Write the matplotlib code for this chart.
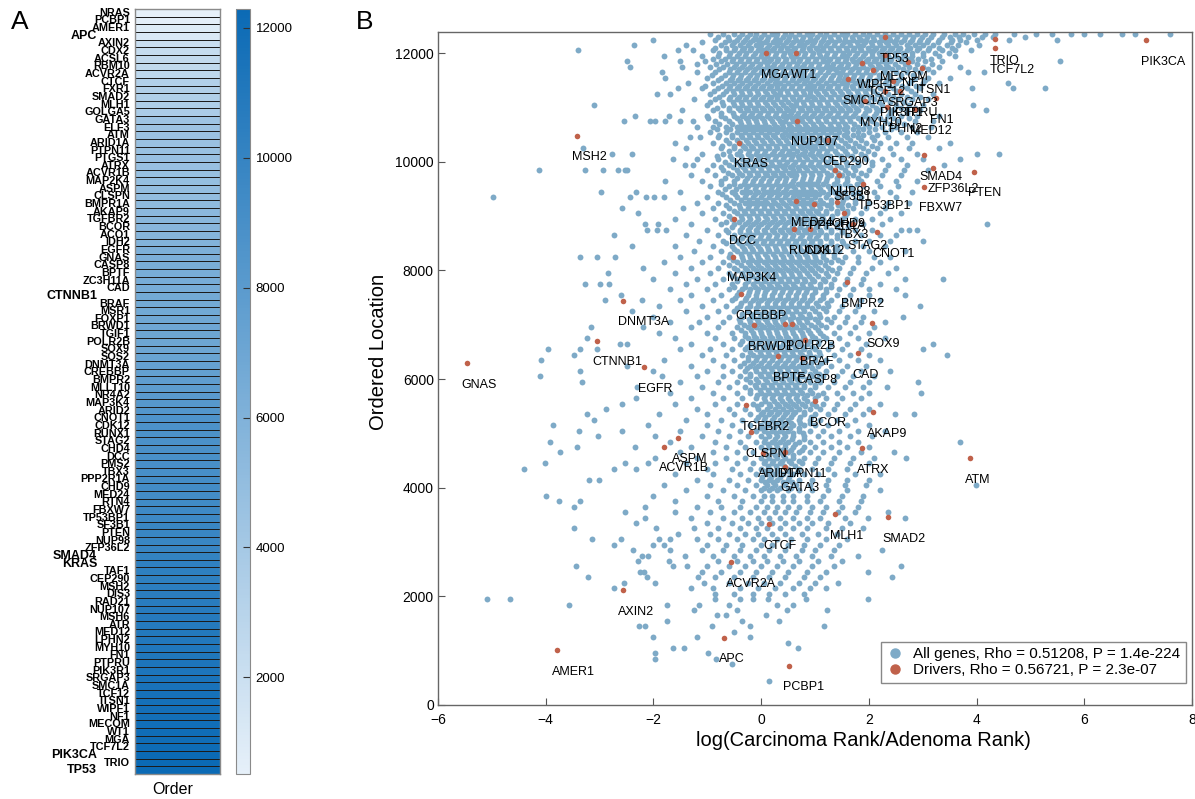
import matplotlib
matplotlib.use('Agg')
import matplotlib.pyplot as plt
from matplotlib.colors import LinearSegmentedColormap
from matplotlib.lines import Line2D
import numpy as np

plt.rcParams['font.family'] = ['Liberation Sans', 'DejaVu Sans']

# ---------------- Panel A data: driver genes ordered by location ----------------
HEAT_GENES = ["NRAS", "PCBP1", "AMER1", "APC", "AXIN2", "CDX2", "ACSL6", "RBM10", "ACVR2A", "CTCF",
              "FXR1", "SMAD2", "MLH1", "GOLGA5", "GATA3", "ELF3", "ATM", "ARID1A", "PTPN11", "PTGS1",
              "ATRX", "ACVR1B", "MAP2K4", "ASPM", "CLSPN", "BMPR1A", "AKAP9", "TGFBR2", "BCOR", "ACO1",
              "IDH2", "EGFR", "GNAS", "CASP8", "BPTF", "ZC3H11A", "CAD", "CTNNB1", "BRAF", "MSR1",
              "FOXP1", "BRWD1", "TGIF1", "POLR2B", "SOX9", "SOS2", "DNMT3A", "CREBBP", "BMPR2", "MLLT10",
              "NR4A2", "MAP3K4", "ARID2", "CNOT1", "CDK12", "RUNX1", "STAG2", "CHD4", "DCC", "PMS2",
              "TBX3", "PPP2R1A", "CHD9", "MED24", "RTN4", "FBXW7", "TP53BP1", "SF3B1", "PTEN", "NUP98",
              "ZFP36L2", "SMAD4", "KRAS", "TAF1", "CEP290", "MSH2", "DIS3", "RAD21", "NUP107", "MSH6",
              "ATR", "MED12", "LPHN2", "MYH10", "FN1", "PTPRU", "PIK3R1", "SRGAP3", "SMC1A", "TCF12",
              "ITSN1", "WIPF1", "NF1", "MECOM", "WT1", "MGA", "TCF7L2", "PIK3CA", "TRIO", "TP53"]
HEAT_VALUES = [512, 725, 1010, 1240, 2120, 2300, 2450, 2560, 2635, 3325,
               3380, 3455, 3510, 3700, 4390, 4450, 4540, 4645, 4660, 4700,
               4725, 4755, 4850, 4920, 5020, 5200, 5390, 5515, 5600, 5750,
               5900, 6215, 6300, 6390, 6425, 6450, 6475, 6710, 6720, 6800,
               6900, 6990, 7015, 7015, 7040, 7200, 7445, 7560, 7780, 7900,
               8050, 8255, 8400, 8700, 8760, 8765, 8855, 8900, 8950, 9000,
               9055, 9220, 9260, 9270, 9400, 9545, 9590, 9760, 9820, 9850,
               9895, 10120, 10353, 10380, 10400, 10482, 10550, 10650, 10760, 10850,
               10900, 10975, 11010, 11120, 11175, 11300, 11305, 11490, 11525, 11690,
               11720, 11815, 11845, 11960, 12000, 12000, 12090, 12245, 12265, 12290]
KEY_GENES = ["APC", "CTNNB1", "SMAD4", "KRAS", "PIK3CA", "TP53"]
CBAR_TICKS = [2000, 4000, 6000, 8000, 10000, 12000]

# ---------------- Panel B data ----------------
# background genes: ordered location (row) -> log ratios of the genes found near that location
BLUE_ROWS = {
    12350: [-0.95, -0.7, -0.5, -0.35, -0.2, -0.1, 0.05, 0.2, 0.3, 0.45, 0.55, 0.7, 0.85, 0.95, 1.1, 1.2, 1.35, 1.5, 1.6, 1.75, 1.9, 2.0, 2.15, 2.3, 2.45, 2.6, 2.75, 2.9, 3.05, 3.2, 3.4, 3.6, 3.75, 3.95, 4.15, 4.35, 4.7, 5.1, 5.4, 5.75, 6.0, 6.3, 6.7, 6.95, 7.6],
    12250: [-2.0, -0.85, -0.6, -0.45, -0.3, -0.15, -0.05, 0.1, 0.25, 0.35, 0.5, 0.65, 0.75, 0.9, 1.0, 1.15, 1.3, 1.45, 1.55, 1.7, 1.85, 1.95, 2.1, 2.25, 2.4, 2.5, 2.65, 2.8, 2.95, 3.1, 3.3, 3.55, 3.7, 4.0, 4.6, 5.5],
    12150: [-2.36, -1.4, -0.75, -0.55, -0.4, -0.25, -0.1, 0.0, 0.15, 0.3, 0.4, 0.55, 0.7, 0.8, 0.95, 1.1, 1.2, 1.35, 1.5, 1.65, 1.8, 1.9, 2.05, 2.2, 2.35, 2.5, 2.7, 2.85, 3.0, 3.2, 3.45, 3.65, 4.05],
    12050: [-3.4, -1.54, -1.26, -0.9, -0.65, -0.5, -0.35, -0.2, -0.05, 0.05, 0.2, 0.35, 0.5, 0.6, 0.75, 0.9, 1.05, 1.15, 1.3, 1.45, 1.6, 1.7, 1.85, 2.0, 2.1, 2.25, 2.4, 2.55, 2.7, 2.9, 3.1, 3.35, 3.6, 3.9],
    11950: [-1.8, -1.1, -0.8, -0.6, -0.45, -0.3, -0.15, 0.0, 0.1, 0.25, 0.4, 0.55, 0.65, 0.8, 0.95, 1.1, 1.2, 1.35, 1.5, 1.6, 1.75, 1.9, 2.05, 2.2, 2.35, 2.5, 2.65, 2.8, 3.0, 3.3, 3.6],
    11850: [-2.49, -1.5, -1.05, -0.75, -0.55, -0.4, -0.25, -0.1, 0.05, 0.15, 0.3, 0.45, 0.6, 0.7, 0.85, 1.0, 1.15, 1.25, 1.4, 1.55, 1.7, 1.8, 1.95, 2.1, 2.25, 2.4, 2.6, 2.8, 3.05, 3.35, 5.54],
    11750: [-2.43, -1.47, -0.95, -0.7, -0.5, -0.35, -0.2, -0.05, 0.1, 0.2, 0.35, 0.5, 0.65, 0.75, 0.9, 1.05, 1.2, 1.3, 1.45, 1.6, 1.75, 1.9, 2.05, 2.2, 2.35, 2.55, 2.75, 3.0, 3.3, 3.7],
    11650: [-1.84, -1.2, -0.85, -0.6, -0.45, -0.3, -0.15, 0.0, 0.15, 0.25, 0.4, 0.55, 0.7, 0.8, 0.95, 1.1, 1.25, 1.4, 1.5, 1.65, 1.8, 1.95, 2.1, 2.3, 2.5, 2.7, 2.95, 3.2, 3.84, 4.13],
    11550: [-1.78, -1.0, -0.75, -0.55, -0.4, -0.25, -0.1, 0.05, 0.2, 0.3, 0.45, 0.6, 0.75, 0.85, 1.0, 1.15, 1.3, 1.45, 1.55, 1.7, 1.85, 2.0, 2.2, 2.4, 2.6, 2.85, 3.1, 3.5],
    11450: [-1.35, -0.9, -0.65, -0.5, -0.35, -0.2, -0.05, 0.1, 0.25, 0.35, 0.5, 0.65, 0.8, 0.9, 1.05, 1.2, 1.35, 1.5, 1.6, 1.75, 1.9, 2.1, 2.3, 2.5, 2.75, 3.0, 3.3, 4.59],
    11350: [-1.54, -1.1, -0.8, -0.6, -0.45, -0.3, -0.15, 0.0, 0.15, 0.3, 0.4, 0.55, 0.7, 0.85, 0.95, 1.1, 1.25, 1.4, 1.55, 1.7, 1.85, 2.0, 2.2, 2.45, 2.7, 2.95, 3.91, 4.68, 5.27],
    11250: [-1.94, -1.69, -0.95, -0.7, -0.5, -0.35, -0.2, -0.05, 0.1, 0.25, 0.35, 0.5, 0.65, 0.8, 0.9, 1.05, 1.2, 1.35, 1.5, 1.65, 1.8, 1.95, 2.15, 2.35, 2.6, 2.85, 3.2],
    11150: [-1.25, -0.85, -0.6, -0.45, -0.3, -0.15, 0.0, 0.15, 0.3, 0.45, 0.6, 0.7, 0.85, 1.0, 1.15, 1.3, 1.45, 1.6, 1.75, 1.9, 2.1, 2.3, 2.55, 2.8, 3.1],
    11050: [-3.1, -1.0, -0.7, -0.5, -0.35, -0.2, -0.05, 0.1, 0.25, 0.4, 0.55, 0.65, 0.8, 0.95, 1.1, 1.25, 1.4, 1.55, 1.7, 1.85, 2.05, 2.25, 2.5, 2.75, 3.0, 3.94],
    10950: [-1.47, -0.9, -0.6, -0.4, -0.25, -0.1, 0.05, 0.2, 0.35, 0.5, 0.6, 0.75, 0.9, 1.05, 1.2, 1.35, 1.5, 1.65, 1.8, 2.0, 2.2, 2.45, 2.7, 2.95, 4.18],
    10850: [-2.34, -1.72, -1.01, -0.75, -0.5, -0.35, -0.2, -0.05, 0.1, 0.25, 0.4, 0.5, 0.65, 0.8, 0.95, 1.1, 1.25, 1.4, 1.55, 1.7, 1.9, 2.1, 2.35, 2.6, 2.9, 3.3],
    10750: [-2.54, -2.06, -1.97, -1.78, -1.5, -1.27, -0.85, -0.6, -0.4, -0.25, -0.1, 0.05, 0.2, 0.35, 0.45, 0.6, 0.75, 0.9, 1.05, 1.2, 1.35, 1.5, 1.65, 1.85, 2.05, 2.3, 2.55, 2.85, 3.2],
    10650: [-1.19, -0.9, -0.65, -0.45, -0.3, -0.15, 0.0, 0.15, 0.3, 0.4, 0.55, 0.7, 0.85, 1.0, 1.15, 1.3, 1.45, 1.6, 1.8, 2.0, 2.25, 2.5, 2.8, 3.15],
    10550: [-0.95, -0.65, -0.45, -0.3, -0.15, 0.0, 0.15, 0.3, 0.45, 0.55, 0.7, 0.85, 1.0, 1.15, 1.3, 1.45, 1.6, 1.8, 2.0, 2.3, 2.6, 2.9],
    10450: [-1.32, -1.13, -0.8, -0.55, -0.35, -0.2, -0.05, 0.1, 0.25, 0.4, 0.55, 0.7, 0.8, 0.95, 1.1, 1.25, 1.4, 1.6, 1.8, 2.05, 2.35, 2.7, 3.1],
    10350: [-1.6, -0.9, -0.6, -0.4, -0.25, -0.1, 0.05, 0.2, 0.35, 0.5, 0.65, 0.8, 0.9, 1.05, 1.2, 1.35, 1.55, 1.75, 1.95, 2.2, 2.5, 2.8, 3.5],
    10250: [-3.3, -1.4, -0.75, -0.5, -0.3, -0.15, 0.0, 0.15, 0.3, 0.45, 0.6, 0.75, 0.9, 1.0, 1.15, 1.3, 1.5, 1.7, 1.9, 2.15, 2.4, 2.75, 3.3],
    10150: [-2.76, -2.39, -1.1, -0.7, -0.45, -0.25, -0.1, 0.05, 0.2, 0.35, 0.5, 0.6, 0.75, 0.9, 1.05, 1.2, 1.4, 1.6, 1.85, 2.1, 2.45, 2.9, 4.0, 4.41],
    10050: [-1.63, -1.2, -0.8, -0.55, -0.35, -0.2, -0.05, 0.1, 0.25, 0.4, 0.55, 0.7, 0.85, 1.0, 1.15, 1.3, 1.5, 1.7, 1.95, 2.25, 2.6, 3.0, 3.7],
    9950: [-1.41, -1.26, -0.9, -0.6, -0.4, -0.25, -0.1, 0.05, 0.2, 0.35, 0.45, 0.6, 0.75, 0.9, 1.05, 1.2, 1.4, 1.6, 1.8, 2.05, 2.35, 2.7, 3.4],
    9850: [-4.13, -3.27, -2.93, -2.66, -2.52, -2.49, -1.0, -0.7, -0.45, -0.3, -0.15, 0.0, 0.15, 0.3, 0.45, 0.6, 0.7, 0.85, 1.0, 1.15, 1.35, 1.55, 1.75, 2.0, 2.3, 2.65, 3.1],
    9750: [-1.3, -0.85, -0.55, -0.35, -0.2, -0.05, 0.1, 0.25, 0.4, 0.55, 0.65, 0.8, 0.95, 1.1, 1.3, 1.5, 1.7, 1.95, 2.25, 2.6],
    9650: [-1.78, -1.1, -0.75, -0.5, -0.3, -0.15, 0.0, 0.15, 0.3, 0.45, 0.6, 0.75, 0.9, 1.05, 1.2, 1.4, 1.6, 1.85, 2.15, 2.5, 2.9],
    9550: [-0.95, -0.6, -0.4, -0.25, -0.1, 0.05, 0.2, 0.35, 0.5, 0.6, 0.75, 0.9, 1.05, 1.25, 1.45, 1.65, 1.9, 2.2, 2.55],
    9450: [-2.98, -2.32, -1.5, -0.8, -0.55, -0.35, -0.2, -0.05, 0.1, 0.25, 0.4, 0.55, 0.7, 0.85, 1.0, 1.15, 1.35, 1.55, 1.8, 2.1, 2.4, 2.8],
    9350: [-4.97, -2.43, -2.13, -1.99, -1.8, -1.0, -0.65, -0.45, -0.3, -0.15, 0.0, 0.15, 0.3, 0.45, 0.6, 0.7, 0.85, 1.0, 1.2, 1.4, 1.6, 1.85, 2.15, 2.5],
    9250: [-1.2, -0.8, -0.5, -0.3, -0.15, 0.0, 0.1, 0.25, 0.4, 0.55, 0.7, 0.85, 1.0, 1.15, 1.3, 1.5, 1.75, 2.0, 2.35, 2.75],
    9150: [-2.59, -1.45, -0.9, -0.6, -0.4, -0.25, -0.1, 0.05, 0.2, 0.35, 0.5, 0.65, 0.8, 0.95, 1.1, 1.3, 1.5, 1.7, 1.95, 2.3],
    9050: [-2.28, -1.1, -0.7, -0.45, -0.3, -0.15, 0.0, 0.15, 0.3, 0.45, 0.6, 0.75, 0.9, 1.05, 1.2, 1.4, 1.6, 1.85, 2.2, 2.6],
    8950: [-1.6, -0.85, -0.55, -0.35, -0.2, -0.05, 0.1, 0.25, 0.4, 0.55, 0.7, 0.85, 1.0, 1.15, 1.3, 1.5, 1.75, 2.05, 2.4],
    8850: [-2.15, -1.91, -1.3, -0.75, -0.5, -0.3, -0.15, 0.0, 0.15, 0.3, 0.45, 0.6, 0.75, 0.9, 1.05, 1.2, 1.4, 1.65, 1.9, 2.25, 4.2],
    8750: [-2.12, -1.94, -1.76, -1.0, -0.65, -0.4, -0.25, -0.1, 0.05, 0.2, 0.35, 0.5, 0.65, 0.8, 0.95, 1.1, 1.3, 1.5, 1.75, 2.05, 2.6, 2.75, 2.9],
    8650: [-2.74, -1.4, -0.8, -0.5, -0.3, -0.15, 0.0, 0.15, 0.3, 0.45, 0.6, 0.75, 0.9, 1.05, 1.2, 1.4, 1.6, 1.85, 2.2, 2.5],
    8550: [-1.15, -0.7, -0.45, -0.25, -0.1, 0.05, 0.2, 0.35, 0.5, 0.65, 0.8, 0.95, 1.1, 1.3, 1.5, 1.75, 2.0, 2.4, 3.0],
    8450: [-2.4, -1.6, -0.9, -0.55, -0.35, -0.2, -0.05, 0.1, 0.25, 0.4, 0.55, 0.7, 0.85, 1.0, 1.2, 1.4, 1.6, 1.9, 2.3],
    8350: [-1.25, -0.75, -0.45, -0.3, -0.15, 0.0, 0.15, 0.3, 0.45, 0.6, 0.75, 0.9, 1.05, 1.25, 1.45, 1.7, 2.0, 2.67],
    8250: [-3.36, -3.04, -2.71, -1.5, -0.95, -0.6, -0.35, -0.2, -0.05, 0.1, 0.25, 0.4, 0.55, 0.7, 0.85, 1.0, 1.15, 1.35, 1.55, 1.8, 2.1, 2.4],
    8150: [-1.8, -1.1, -0.7, -0.45, -0.25, -0.1, 0.05, 0.2, 0.35, 0.5, 0.65, 0.8, 0.95, 1.1, 1.3, 1.5, 1.8, 2.2],
    8050: [-2.2, -1.3, -0.8, -0.5, -0.3, -0.15, 0.0, 0.15, 0.3, 0.45, 0.6, 0.75, 0.9, 1.05, 1.25, 1.45, 1.7, 2.05, 2.5],
    7950: [-2.84, -1.6, -0.95, -0.6, -0.35, -0.2, -0.05, 0.1, 0.25, 0.4, 0.55, 0.7, 0.85, 1.0, 1.2, 1.4, 1.65, 1.95, 2.35],
    7850: [-2.01, -1.2, -0.7, -0.45, -0.25, -0.1, 0.05, 0.2, 0.35, 0.5, 0.65, 0.8, 0.95, 1.15, 1.35, 1.6, 1.9, 2.67, 3.38],
    7750: [-3.27, -3.0, -2.82, -1.4, -0.85, -0.55, -0.3, -0.15, 0.0, 0.15, 0.3, 0.45, 0.6, 0.75, 0.9, 1.1, 1.3, 1.55, 1.85, 2.2],
    7650: [-1.7, -1.0, -0.6, -0.35, -0.2, -0.05, 0.1, 0.25, 0.4, 0.55, 0.7, 0.85, 1.0, 1.2, 1.45, 1.7, 2.0, 2.5],
    7550: [-2.6, -1.3, -0.75, -0.45, -0.25, -0.1, 0.05, 0.2, 0.35, 0.5, 0.65, 0.8, 0.95, 1.15, 1.4, 1.65, 2.0, 2.67],
    7450: [-2.9, -2.21, -1.5, -0.9, -0.55, -0.3, -0.15, 0.0, 0.15, 0.3, 0.45, 0.6, 0.75, 0.9, 1.1, 1.3, 1.55, 1.85, 2.2],
    7350: [-1.9, -1.1, -0.65, -0.4, -0.2, -0.05, 0.1, 0.25, 0.4, 0.55, 0.7, 0.85, 1.05, 1.25, 1.5, 1.8, 2.95],
    7250: [-2.4, -1.4, -0.8, -0.5, -0.25, -0.1, 0.05, 0.2, 0.35, 0.5, 0.65, 0.8, 1.0, 1.2, 1.45, 1.75, 2.1],
    7150: [-2.0, -1.0, -0.6, -0.35, -0.15, 0.0, 0.15, 0.3, 0.45, 0.6, 0.75, 0.9, 1.1, 1.35, 1.6, 1.9, 2.63],
    7050: [-1.7, -1.15, -0.7, -0.4, -0.2, -0.05, 0.1, 0.25, 0.4, 0.55, 0.7, 0.85, 1.05, 1.3, 1.55, 1.85, 2.3],
    6950: [-3.16, -2.2, -1.3, -0.8, -0.45, -0.25, -0.1, 0.05, 0.2, 0.35, 0.5, 0.65, 0.8, 1.0, 1.2, 1.45, 1.75, 2.1],
    6850: [-1.9, -1.0, -0.55, -0.3, -0.15, 0.0, 0.15, 0.3, 0.45, 0.6, 0.75, 0.9, 1.1, 1.35, 1.65, 2.0],
    6750: [-3.23, -1.6, -0.85, -0.5, -0.25, -0.1, 0.05, 0.2, 0.35, 0.5, 0.65, 0.8, 1.0, 1.2, 1.45, 1.8, 2.3],
    6650: [-2.62, -2.49, -1.3, -0.7, -0.4, -0.2, -0.05, 0.1, 0.25, 0.4, 0.55, 0.7, 0.85, 1.05, 1.3, 1.6, 1.95, 3.19],
    6550: [-3.95, -3.36, -3.05, -1.5, -0.95, -0.55, -0.3, -0.1, 0.05, 0.2, 0.35, 0.5, 0.65, 0.8, 1.0, 1.25, 1.5, 1.85, 3.01],
    6450: [-3.48, -1.1, -0.65, -0.35, -0.15, 0.0, 0.15, 0.3, 0.45, 0.6, 0.75, 0.9, 1.1, 1.35, 1.65, 2.0, 3.45],
    6350: [-4.08, -1.8, -0.9, -0.5, -0.25, -0.1, 0.05, 0.2, 0.35, 0.5, 0.65, 0.8, 1.0, 1.2, 1.45, 1.8, 2.2],
    6250: [-2.5, -1.3, -0.7, -0.4, -0.2, -0.05, 0.1, 0.25, 0.4, 0.55, 0.7, 0.85, 1.05, 1.3, 1.6, 1.95],
    6150: [-3.37, -2.0, -1.0, -0.55, -0.3, -0.1, 0.05, 0.2, 0.35, 0.5, 0.65, 0.8, 1.0, 1.2, 1.5, 1.85, 2.4],
    6050: [-4.1, -1.84, -1.2, -0.7, -0.4, -0.2, 0.0, 0.15, 0.3, 0.45, 0.6, 0.75, 0.95, 1.15, 1.4, 1.7, 2.1],
    5950: [-3.33, -1.5, -0.8, -0.45, -0.2, -0.05, 0.1, 0.25, 0.4, 0.55, 0.7, 0.9, 1.1, 1.35, 1.65, 2.0, 2.92],
    5850: [-2.3, -1.1, -0.6, -0.3, -0.1, 0.05, 0.2, 0.35, 0.5, 0.65, 0.8, 1.0, 1.25, 1.55, 1.9, 2.33],
    5750: [-1.7, -0.9, -0.45, -0.2, 0.0, 0.15, 0.3, 0.45, 0.6, 0.75, 0.95, 1.15, 1.4, 1.7, 2.0, 2.97],
    5650: [-2.33, -1.3, -0.7, -0.35, -0.1, 0.05, 0.2, 0.35, 0.5, 0.65, 0.8, 1.0, 1.2, 1.5, 1.85],
    5550: [-2.59, -1.6, -0.85, -0.45, -0.15, 0.0, 0.15, 0.3, 0.45, 0.6, 0.75, 0.95, 1.15, 1.4, 1.75, 2.2],
    5450: [-2.88, -1.2, -0.6, -0.3, -0.05, 0.1, 0.25, 0.4, 0.55, 0.7, 0.9, 1.1, 1.35, 1.65, 2.0],
    5350: [-3.24, -1.9, -1.0, -0.5, -0.2, 0.0, 0.15, 0.3, 0.45, 0.6, 0.8, 1.0, 1.25, 1.55, 1.9, 2.49, 2.83],
    5250: [-3.11, -1.4, -0.75, -0.35, -0.1, 0.05, 0.2, 0.35, 0.5, 0.7, 0.9, 1.1, 1.4, 1.75],
    5150: [-3.87, -2.1, -1.0, -0.55, -0.2, 0.0, 0.15, 0.3, 0.45, 0.6, 0.8, 1.0, 1.25, 1.6, 2.0],
    5050: [-3.38, -2.59, -1.5, -0.8, -0.4, -0.1, 0.05, 0.2, 0.35, 0.5, 0.7, 0.9, 1.15, 1.45, 1.8, 2.3],
    4950: [-3.03, -1.98, -1.1, -0.6, -0.25, 0.0, 0.15, 0.3, 0.45, 0.6, 0.8, 1.05, 1.3, 1.65, 2.05],
    4850: [-3.92, -1.7, -0.85, -0.4, -0.1, 0.05, 0.2, 0.35, 0.5, 0.7, 0.9, 1.15, 1.45, 1.8, 3.69],
    4750: [-3.41, -2.35, -1.3, -0.65, -0.3, 0.0, 0.15, 0.3, 0.45, 0.6, 0.8, 1.0, 1.3, 1.6, 2.0],
    4650: [-3.73, -1.5, -0.9, -0.45, -0.15, 0.05, 0.2, 0.35, 0.5, 0.7, 0.9, 1.15, 1.45, 1.85, 2.46],
    4550: [-1.97, -1.2, -0.65, -0.3, 0.0, 0.15, 0.3, 0.45, 0.6, 0.8, 1.05, 1.35, 1.7, 2.1, 2.69],
    4450: [-4.01, -2.52, -2.11, -1.4, -0.85, -0.45, -0.15, 0.05, 0.2, 0.35, 0.55, 0.75, 1.0, 1.3, 1.65, 2.0],
    4350: [-4.41, -2.73, -2.32, -1.0, -0.55, -0.2, 0.0, 0.15, 0.3, 0.5, 0.7, 0.95, 1.25, 1.6],
    4250: [-1.6, -0.9, -0.4, -0.1, 0.1, 0.25, 0.4, 0.6, 0.8, 1.05, 1.35, 1.75, 2.2],
    4150: [-3.19, -3.01, -1.2, -0.6, -0.25, 0.0, 0.15, 0.3, 0.5, 0.7, 0.95, 1.25, 1.6, 2.0],
    4050: [-1.8, -0.95, -0.45, -0.1, 0.1, 0.25, 0.45, 0.65, 0.9, 1.2, 1.55, 1.95, 3.99],
    3950: [-1.4, -0.7, -0.3, 0.0, 0.15, 0.3, 0.5, 0.7, 0.95, 1.25, 1.6, 2.2],
    3850: [-4.0, -2.0, -1.0, -0.5, -0.15, 0.05, 0.2, 0.4, 0.6, 0.85, 1.15, 1.5, 1.9],
    3750: [-3.75, -3.37, -1.6, -0.8, -0.35, 0.0, 0.2, 0.4, 0.6, 0.85, 1.1, 1.45, 1.85],
    3650: [-3.47, -2.15, -1.2, -0.75, -0.4, -0.1, 0.1, 0.3, 0.5, 0.7, 0.95, 1.2, 1.5, 1.8],
    3550: [-2.52, -1.6, -0.95, -0.5, -0.2, 0.05, 0.25, 0.45, 0.65, 0.9, 1.15, 1.42, 1.75, 2.35],
    3450: [-2.15, -1.3, -0.7, -0.35, -0.05, 0.15, 0.35, 0.6, 0.85, 1.1, 1.55, 1.99, 2.67],
    3350: [-2.33, -1.0, -0.55, -0.25, 0.0, 0.2, 0.45, 0.7, 0.95, 1.25, 1.65],
    3250: [-3.47, -1.95, -1.25, -0.8, -0.4, -0.1, 0.1, 0.35, 0.6, 0.85, 1.2, 1.5, 1.9],
    3150: [-1.54, -0.95, -0.6, -0.3, -0.05, 0.2, 0.45, 0.75, 1.05, 1.4],
    3050: [-3.14, -2.6, -1.89, -1.69, -1.2, -0.8, -0.45, -0.15, 0.05, 0.3, 0.55, 0.85, 1.2, 1.6],
    2950: [-2.73, -2.01, -1.81, -1.0, -0.65, -0.35, 0.0, 0.2, 0.5, 0.8, 1.1, 1.45],
    2850: [-2.38, -1.69, -1.1, -0.7, -0.4, -0.1, 0.15, 0.45, 0.75, 1.0, 1.35, 2.24],
    2750: [-2.22, -2.11, -1.41, -0.9, -0.5, -0.2, 0.05, 0.35, 0.65, 0.95, 1.3, 1.8],
    2650: [-2.28, -1.72, -0.8, -0.45, -0.15, 0.1, 0.4, 0.7, 1.05, 1.5],
    2550: [-3.43, -1.63, -1.38, -1.0, -0.6, -0.3, 0.0, 0.3, 0.6, 0.95, 1.35, 2.59],
    2450: [-2.25, -2.17, -1.1, -0.75, -0.4, -0.1, 0.2, 0.5, 0.85, 1.2, 1.99],
    2350: [-3.22, -2.12, -1.17, -0.85, -0.5, -0.15, 0.15, 0.45, 0.8, 1.1, 2.43],
    2250: [-2.54, -1.98, -1.06, -0.6, -0.25, 0.05, 0.35, 0.7, 1.0, 1.42],
    2150: [-2.73, -1.3, -0.9, -0.4, -0.05, 0.25, 0.6, 0.9, 1.2],
    2050: [-0.85, -0.5, -0.15, 0.15, 0.45, 0.8],
    1950: [-5.09, -4.66, -0.85, -0.4, -0.15, 0.12, 0.83, 1.99],
    1850: [-3.56, -1.75, -1.16, -0.6, 0.3, 0.6],
    1750: [-1.24, -0.45, 0.48, 1.23],
    1650: [-0.82, -0.66, 0.09],
    1550: [-1.75, -0.35, 0.33],
    1450: [-2.26, -2.15, -0.91, -0.2, 1.17],
    1350: [-0.5],
    1250: [-2.01, -1.19, -0.2],
    1150: [0.5],
    1050: [-1.63, -1.43, 0.68],
    950: [-1.97, -0.99],
    850: [-1.97, -0.84],
    750: [-0.54],
    450: [0.15],
}

# dense core of the cloud: genes lying between the rows above
CORE_ROWS = {
    12300: [-0.8, -0.62, -0.42, -0.27, -0.12, 0.0, 0.13, 0.27, 0.4, 0.52, 0.63, 0.78, 0.9, 1.03, 1.16, 1.27, 1.42, 1.56, 1.68, 1.82, 1.97, 2.08, 2.22, 2.38, 2.53, 2.68, 2.82, 2.98, 3.15, 3.35, 3.5, 3.68, 3.85, 4.1, 4.3, 4.9],
    12200: [-1.1, -0.68, -0.5, -0.33, -0.2, -0.03, 0.07, 0.22, 0.33, 0.47, 0.6, 0.72, 0.86, 0.98, 1.12, 1.24, 1.38, 1.53, 1.64, 1.78, 1.93, 2.04, 2.18, 2.32, 2.47, 2.6, 2.77, 2.93, 3.08, 3.28, 3.52, 3.8],
    12100: [-0.85, -0.65, -0.48, -0.32, -0.18, -0.02, 0.1, 0.24, 0.37, 0.48, 0.62, 0.77, 0.88, 1.02, 1.14, 1.28, 1.42, 1.58, 1.72, 1.83, 1.98, 2.13, 2.28, 2.43, 2.58, 2.76, 2.93, 3.12, 3.3, 3.55],
    12000: [-0.78, -0.58, -0.42, -0.28, -0.12, 0.02, 0.13, 0.27, 0.42, 0.54, 0.68, 0.82, 0.97, 1.08, 1.22, 1.37, 1.52, 1.64, 1.78, 1.92, 2.05, 2.18, 2.33, 2.48, 2.63, 2.8, 3.0, 3.22, 3.48],
    11900: [-0.9, -0.68, -0.52, -0.37, -0.22, -0.08, 0.06, 0.18, 0.32, 0.47, 0.6, 0.73, 0.87, 1.02, 1.14, 1.28, 1.43, 1.57, 1.68, 1.83, 1.98, 2.13, 2.28, 2.42, 2.57, 2.72, 2.92, 3.15],
    11800: [-1.2, -0.83, -0.63, -0.47, -0.32, -0.17, -0.03, 0.1, 0.23, 0.38, 0.52, 0.67, 0.8, 0.93, 1.08, 1.22, 1.33, 1.48, 1.62, 1.77, 1.87, 2.02, 2.17, 2.32, 2.48, 2.68, 2.9, 3.18],
    11700: [-0.78, -0.58, -0.42, -0.27, -0.12, 0.03, 0.17, 0.28, 0.43, 0.57, 0.72, 0.83, 0.97, 1.13, 1.27, 1.37, 1.52, 1.68, 1.82, 1.97, 2.13, 2.28, 2.43, 2.63, 2.85, 3.1],
    11600: [-0.92, -0.68, -0.52, -0.37, -0.2, -0.07, 0.08, 0.22, 0.35, 0.48, 0.63, 0.78, 0.9, 1.03, 1.18, 1.33, 1.47, 1.58, 1.73, 1.88, 2.03, 2.18, 2.38, 2.6, 2.82],
    11500: [-0.8, -0.58, -0.43, -0.28, -0.13, 0.02, 0.16, 0.28, 0.42, 0.57, 0.7, 0.83, 0.97, 1.12, 1.27, 1.42, 1.53, 1.67, 1.82, 1.98, 2.13, 2.33, 2.55, 2.8, 3.05],
    11400: [-1.05, -0.73, -0.57, -0.42, -0.27, -0.12, 0.03, 0.18, 0.3, 0.43, 0.58, 0.73, 0.87, 0.98, 1.13, 1.28, 1.43, 1.57, 1.68, 1.83, 1.98, 2.18, 2.38, 2.62, 2.88],
    11300: [-0.87, -0.66, -0.52, -0.38, -0.22, -0.08, 0.08, 0.22, 0.35, 0.48, 0.62, 0.78, 0.9, 1.02, 1.17, 1.32, 1.47, 1.62, 1.78, 1.92, 2.08, 2.28, 2.52, 2.78],
    11200: [-0.78, -0.58, -0.42, -0.28, -0.12, 0.03, 0.18, 0.3, 0.42, 0.57, 0.72, 0.87, 0.97, 1.12, 1.28, 1.42, 1.57, 1.72, 1.87, 2.03, 2.22, 2.45, 2.7, 2.95],
    11100: [-0.95, -0.72, -0.53, -0.38, -0.22, -0.08, 0.07, 0.22, 0.37, 0.5, 0.64, 0.78, 0.92, 1.07, 1.22, 1.37, 1.52, 1.67, 1.82, 1.98, 2.18, 2.4, 2.65],
    11000: [-0.82, -0.6, -0.43, -0.28, -0.13, 0.02, 0.17, 0.32, 0.47, 0.6, 0.72, 0.87, 1.02, 1.17, 1.32, 1.47, 1.62, 1.77, 1.95, 2.13, 2.35, 2.6, 2.85],
    10900: [-0.75, -0.52, -0.32, -0.17, -0.02, 0.12, 0.27, 0.42, 0.55, 0.68, 0.83, 0.98, 1.13, 1.28, 1.43, 1.58, 1.75, 1.93, 2.13, 2.4, 2.7],
    10800: [-0.98, -0.68, -0.45, -0.28, -0.13, 0.02, 0.17, 0.32, 0.47, 0.58, 0.72, 0.87, 1.03, 1.18, 1.33, 1.48, 1.63, 1.8, 1.98, 2.2, 2.45, 2.75],
    10700: [-0.78, -0.55, -0.37, -0.22, -0.07, 0.08, 0.23, 0.38, 0.52, 0.67, 0.82, 0.97, 1.12, 1.27, 1.42, 1.55, 1.72, 1.92, 2.13, 2.4, 2.65],
    10600: [-0.82, -0.58, -0.38, -0.23, -0.08, 0.08, 0.22, 0.37, 0.5, 0.62, 0.77, 0.93, 1.08, 1.22, 1.38, 1.53, 1.7, 1.9, 2.12, 2.42],
    10500: [-0.78, -0.55, -0.38, -0.22, -0.08, 0.07, 0.22, 0.38, 0.5, 0.63, 0.78, 0.92, 1.07, 1.22, 1.38, 1.53, 1.7, 1.9, 2.15],
    10400: [-0.65, -0.45, -0.28, -0.13, 0.02, 0.17, 0.32, 0.47, 0.62, 0.75, 0.88, 1.02, 1.17, 1.32, 1.48, 1.65, 1.85, 2.1],
    10300: [-0.72, -0.5, -0.33, -0.18, -0.03, 0.12, 0.27, 0.42, 0.57, 0.72, 0.85, 0.98, 1.12, 1.28, 1.42, 1.62, 1.82, 2.05],
    10200: [-0.6, -0.4, -0.23, -0.08, 0.08, 0.23, 0.38, 0.52, 0.67, 0.82, 0.95, 1.08, 1.23, 1.38, 1.55, 1.75, 1.98],
    10100: [-0.82, -0.57, -0.37, -0.18, -0.03, 0.13, 0.28, 0.43, 0.57, 0.68, 0.82, 0.97, 1.12, 1.28, 1.48, 1.68, 1.92],
    10000: [-0.68, -0.47, -0.28, -0.12, 0.02, 0.18, 0.33, 0.48, 0.62, 0.78, 0.93, 1.08, 1.22, 1.38, 1.58, 1.8, 2.05],
    9900: [-0.75, -0.52, -0.33, -0.17, -0.03, 0.13, 0.27, 0.4, 0.53, 0.68, 0.82, 0.97, 1.12, 1.28, 1.48, 1.7],
    9800: [-0.62, -0.42, -0.23, -0.08, 0.07, 0.22, 0.37, 0.52, 0.63, 0.78, 0.92, 1.07, 1.22, 1.42, 1.62, 1.85],
    9700: [-0.68, -0.45, -0.27, -0.12, 0.03, 0.18, 0.33, 0.47, 0.62, 0.77, 0.92, 1.08, 1.23, 1.4, 1.6, 1.8],
    9600: [-0.75, -0.5, -0.32, -0.17, -0.03, 0.12, 0.28, 0.42, 0.55, 0.68, 0.83, 0.98, 1.15, 1.35, 1.55, 1.78],
    9500: [-0.68, -0.47, -0.28, -0.12, 0.03, 0.18, 0.32, 0.47, 0.62, 0.78, 0.93, 1.1, 1.27, 1.45, 1.68],
    9400: [-0.72, -0.48, -0.28, -0.12, 0.03, 0.18, 0.33, 0.48, 0.62, 0.77, 0.92, 1.07, 1.25, 1.45, 1.7],
    9300: [-0.57, -0.38, -0.22, -0.07, 0.08, 0.22, 0.37, 0.52, 0.65, 0.78, 0.93, 1.1, 1.3, 1.52, 1.75],
    9200: [-0.65, -0.42, -0.22, -0.07, 0.05, 0.18, 0.32, 0.47, 0.62, 0.78, 0.92, 1.08, 1.22, 1.42, 1.62],
    9100: [-0.5, -0.32, -0.17, -0.03, 0.12, 0.27, 0.42, 0.57, 0.72, 0.87, 1.02, 1.2, 1.4, 1.6],
    9000: [-0.6, -0.38, -0.22, -0.07, 0.08, 0.22, 0.37, 0.52, 0.67, 0.82, 0.97, 1.13, 1.32, 1.55],
    8900: [-0.65, -0.42, -0.25, -0.1, 0.05, 0.2, 0.35, 0.5, 0.65, 0.8, 0.95, 1.1, 1.28, 1.48],
    8800: [-0.55, -0.35, -0.2, -0.05, 0.1, 0.25, 0.42, 0.57, 0.72, 0.87, 1.02, 1.2, 1.4, 1.62],
    8700: [-0.62, -0.4, -0.22, -0.07, 0.08, 0.23, 0.38, 0.53, 0.68, 0.83, 0.98, 1.12, 1.3, 1.5],
    8600: [-0.55, -0.35, -0.18, -0.03, 0.12, 0.27, 0.42, 0.57, 0.72, 0.88, 1.02, 1.2, 1.4],
    8500: [-0.65, -0.42, -0.27, -0.12, 0.03, 0.18, 0.33, 0.48, 0.63, 0.77, 0.92, 1.1, 1.3, 1.52],
    8400: [-0.5, -0.32, -0.17, -0.02, 0.13, 0.28, 0.43, 0.58, 0.72, 0.87, 1.02, 1.18, 1.38],
    8300: [-0.58, -0.38, -0.22, -0.07, 0.08, 0.22, 0.37, 0.52, 0.67, 0.82, 0.98, 1.15, 1.35],
    8200: [-0.52, -0.33, -0.17, -0.02, 0.12, 0.27, 0.42, 0.57, 0.72, 0.87, 1.02, 1.2, 1.42],
    8100: [-0.6, -0.38, -0.2, -0.05, 0.1, 0.25, 0.4, 0.55, 0.7, 0.85, 1.0, 1.18],
    8000: [-0.45, -0.27, -0.1, 0.05, 0.2, 0.35, 0.5, 0.65, 0.8, 0.95, 1.12, 1.32],
    7900: [-0.55, -0.33, -0.17, -0.02, 0.13, 0.28, 0.43, 0.58, 0.73, 0.88, 1.05, 1.25],
    7800: [-0.45, -0.25, -0.08, 0.07, 0.22, 0.37, 0.52, 0.67, 0.82, 0.98, 1.18],
    7700: [-0.5, -0.3, -0.12, 0.03, 0.18, 0.33, 0.48, 0.63, 0.78, 0.93, 1.1, 1.3],
    7600: [-0.42, -0.23, -0.07, 0.08, 0.23, 0.38, 0.53, 0.68, 0.83, 1.0, 1.2],
    7500: [-0.48, -0.28, -0.1, 0.05, 0.2, 0.35, 0.5, 0.65, 0.8, 0.95, 1.15],
    7400: [-0.38, -0.2, -0.05, 0.1, 0.25, 0.4, 0.55, 0.7, 0.85, 1.02, 1.22],
    7300: [-0.45, -0.27, -0.1, 0.03, 0.18, 0.33, 0.48, 0.63, 0.78, 0.95, 1.15],
    7200: [-0.35, -0.18, -0.03, 0.12, 0.27, 0.42, 0.57, 0.72, 0.88, 1.08],
    7100: [-0.42, -0.22, -0.07, 0.08, 0.23, 0.38, 0.53, 0.68, 0.83, 1.0, 1.22],
    7000: [-0.32, -0.15, 0.0, 0.15, 0.3, 0.45, 0.6, 0.75, 0.92, 1.12],
    6900: [-0.38, -0.18, -0.03, 0.12, 0.27, 0.42, 0.57, 0.72, 0.87, 1.05],
    6800: [-0.3, -0.13, 0.02, 0.17, 0.32, 0.47, 0.62, 0.77, 0.95, 1.15],
    6700: [-0.35, -0.17, -0.02, 0.13, 0.28, 0.43, 0.58, 0.73, 0.9, 1.08],
    6600: [-0.27, -0.12, 0.03, 0.18, 0.33, 0.48, 0.63, 0.78, 0.95],
    6500: [-0.2, -0.03, 0.12, 0.27, 0.42, 0.57, 0.72, 0.88, 1.08],
    6400: [-0.25, -0.08, 0.07, 0.22, 0.37, 0.52, 0.67, 0.83, 1.0],
    6300: [-0.32, -0.15, 0.0, 0.15, 0.3, 0.45, 0.6, 0.75, 0.92, 1.12],
    6200: [-0.27, -0.12, 0.03, 0.18, 0.33, 0.48, 0.63, 0.78, 0.95],
    6100: [-0.2, -0.03, 0.12, 0.27, 0.42, 0.57, 0.72, 0.9, 1.08],
    6000: [-0.28, -0.1, 0.07, 0.22, 0.37, 0.52, 0.67, 0.85, 1.03],
    5900: [-0.12, 0.03, 0.18, 0.33, 0.48, 0.63, 0.8, 1.0],
    5800: [-0.2, -0.02, 0.13, 0.28, 0.43, 0.58, 0.73, 0.9],
    5700: [-0.08, 0.07, 0.22, 0.37, 0.52, 0.67, 0.85, 1.05],
    5600: [0.08, 0.23, 0.38, 0.53, 0.68, 0.85],
    5500: [-0.08, 0.17, 0.33, 0.5, 0.65, 0.82, 1.02],
    5400: [0.03, 0.18, 0.33, 0.48, 0.63, 0.8],
    5300: [-0.05, 0.08, 0.23, 0.4, 0.55, 0.72, 0.92],
    5200: [0.1, 0.25, 0.4, 0.55, 0.72, 0.9],
    5100: [-0.03, 0.08, 0.23, 0.38, 0.53, 0.7],
    5000: [0.12, 0.27, 0.42, 0.6, 0.78],
    4900: [0.08, 0.25, 0.4, 0.58, 0.8],
    4800: [0.12, 0.28, 0.45, 0.62],
    4700: [0.08, 0.22, 0.38, 0.55, 0.75],
    4600: [0.1, 0.25, 0.4, 0.6],
    4500: [0.08, 0.22, 0.38, 0.52, 0.7],
    4400: [0.12, 0.28, 0.42, 0.62],
    4300: [0.05, 0.18, 0.32, 0.5, 0.68],
    4200: [0.02, 0.18, 0.35, 0.52],
    4100: [0.08, 0.22, 0.4, 0.58],
    4000: [0.05, 0.2, 0.35, 0.55],
}

DRIVER_NAMES = ["PIK3CA", "TP53", "TRIO", "TCF7L2", "MGA", "WT1", "MECOM", "NF1", "WIPF1", "ITSN1",
                "TCF12", "SMC1A", "SRGAP3", "PIK3R1", "PTPRU", "FN1", "MYH10", "LPHN2", "MED12", "NUP107",
                "MSH2", "CEP290", "KRAS", "SMAD4", "ZFP36L2", "NUP98", "PTEN", "SF3B1", "TP53BP1", "FBXW7",
                "MED24", "PPP2R1A", "CHD9", "TBX3", "DCC", "STAG2", "RUNX1", "CDK12", "CNOT1", "MAP3K4",
                "BMPR2", "CREBBP", "DNMT3A", "SOX9", "", "POLR2B", "BRWD1", "CTNNB1", "BRAF", "CAD",
                "BPTF", "CASP8", "GNAS", "EGFR", "BCOR", "TGFBR2", "AKAP9", "CLSPN", "ASPM", "ACVR1B",
                "ATRX", "ARID1A", "ATM", "PTPN11", "GATA3", "MLH1", "SMAD2", "CTCF", "ACVR2A", "AXIN2",
                "APC", "AMER1", "PCBP1"]
DRIVER_X = [7.15, 2.30, 4.35, 4.35, 0.09, 0.65, 2.30, 2.72, 1.87, 2.98,
            2.07, 1.61, 2.45, 2.30, 2.58, 3.24, 1.93, 2.34, 2.86, 0.66,
            -3.41, 1.24, -0.41, 3.03, 3.20, 1.37, 3.95, 1.44, 1.90, 3.03,
            0.65, 0.99, 1.41, 1.53, -0.50, 1.71, 0.61, 0.91, 2.16, -0.53,
            1.59, -0.37, -2.56, 2.06, 0.45, 0.57, -0.14, -3.04, 0.82, 1.79,
            0.32, 0.76, -5.46, -2.18, 1.00, -0.28, 2.07, -0.19, -1.55, -1.80,
            1.87, 0.04, 3.88, 0.45, 0.45, 1.37, 2.35, 0.14, -0.56, -2.56,
            -0.69, -3.79, 0.51]
DRIVER_Y = [12245, 12290, 12265, 12090, 12000, 12000, 11960, 11845, 11815, 11720,
            11690, 11525, 11490, 11305, 11300, 11175, 11120, 11010, 10975, 10760,
            10482, 10400, 10353, 10120, 9895, 9850, 9820, 9760, 9590, 9545,
            9270, 9220, 9260, 9055, 8950, 8855, 8765, 8760, 8700, 8255,
            7780, 7560, 7445, 7040, 7015, 7015, 6990, 6710, 6720, 6475,
            6425, 6390, 6300, 6215, 5600, 5515, 5390, 5020, 4920, 4755,
            4725, 4645, 4540, 4660, 4390, 3510, 3455, 3325, 2635, 2120,
            1240, 1010, 725]

LEGEND_LABELS = ["All genes, Rho = 0.51208, P = 1.4e-224", "Drivers, Rho = 0.56721, P = 2.3e-07"]

BLUE = '#7eaac7'
RED = '#c0614a'

# ---------------- figure ----------------
W, H = 1195, 799
fig = plt.figure(figsize=(W / 100, H / 100), dpi=100)


def box(l, t, r, b):
    return [l / W, 1 - b / H, (r - l) / W, (b - t) / H]


# Panel A heatmap
axA = fig.add_axes(box(135, 9, 220, 774))
n = len(HEAT_GENES)
vals = np.array(HEAT_VALUES, dtype=float).reshape(-1, 1)
cmap = LinearSegmentedColormap.from_list('ordblue', ['#e6f0f9', '#0b6ab5'])
mesh = axA.pcolormesh(np.array([0.0, 1.0]), np.arange(n + 1), vals, cmap=cmap,
                      vmin=min(HEAT_VALUES), vmax=max(HEAT_VALUES),
                      edgecolors='#1c1c1c', linewidth=0.7)
axA.set_xlim(0, 1)
axA.set_ylim(n, 0)
axA.set_xticks([])
axA.set_yticks([])
for s in axA.spines.values():
    s.set_color('#8a8a8a')
    s.set_linewidth(1.0)
for i, g in enumerate(HEAT_GENES):
    if g in KEY_GENES:
        axA.text(-0.447, i + 0.5, g, ha='right', va='center', fontsize=9, fontweight='bold')
    else:
        axA.text(-0.06, i + 0.5, g, ha='right', va='center', fontsize=7.8, fontweight='bold')

cax = fig.add_axes(box(236, 9, 250, 774))
cb = fig.colorbar(mesh, cax=cax)
cb.set_ticks(CBAR_TICKS)
cb.ax.tick_params(direction='in', length=5, width=0.8, labelsize=9.5, pad=4, color='#333333')
cb.outline.set_edgecolor('#8a8a8a')
fig.text(173 / W, 1 - 790 / H, 'Order', ha='center', va='center', fontsize=11.5)
fig.text(20 / W, 1 - 22 / H, 'A', ha='center', va='center', fontsize=19)

# Panel B scatter
axB = fig.add_axes(box(438, 32, 1192, 705))
bx, by = [], []
for rows in (BLUE_ROWS, CORE_ROWS):
    for yv, xs in rows.items():
        for xv in xs:
            bx.append(xv)
            by.append(yv)
axB.scatter(bx, by, s=18, color=BLUE, linewidths=0, zorder=2)
axB.scatter(DRIVER_X, DRIVER_Y, s=16, color=RED, linewidths=0, zorder=3)
for name, xv, yv in zip(DRIVER_NAMES, DRIVER_X, DRIVER_Y):
    if name:
        axB.text(xv - 0.1, yv - 400, name, ha='left', va='center', fontsize=9, zorder=4)

axB.set_xlim(-6, 8)
axB.set_ylim(0, 12390)
axB.set_xticks([-6, -4, -2, 0, 2, 4, 6, 8])
axB.set_yticks([0, 2000, 4000, 6000, 8000, 10000, 12000])
axB.tick_params(direction='in', length=5, width=0.8, labelsize=10, color='#555555')
axB.tick_params(axis='x', pad=6)
axB.tick_params(axis='y', pad=3)
for s in axB.spines.values():
    s.set_color('#666666')
    s.set_linewidth(1.0)

handles = [Line2D([], [], marker='o', linestyle='', color=BLUE, markersize=6.5),
           Line2D([], [], marker='o', linestyle='', color=RED, markersize=6.5)]
leg = axB.legend(handles, LEGEND_LABELS, loc='lower right', bbox_to_anchor=(0.992, 0.033),
                 borderaxespad=0, fontsize=11, fancybox=False, framealpha=1,
                 edgecolor='#888888', handletextpad=0.6, borderpad=0.35, labelspacing=0.15,
                 handlelength=1.2)
leg.get_frame().set_linewidth(1.0)

fig.text(863 / W, 1 - 740 / H, 'log(Carcinoma Rank/Adenoma Rank)', ha='center', va='center', fontsize=14.5)
fig.text(379 / W, 1 - 352 / H, 'Ordered Location', ha='center', va='center', rotation=90, fontsize=14.5)
fig.text(365 / W, 1 - 22 / H, 'B', ha='center', va='center', fontsize=19)

fig.savefig('out.png', dpi=100)
